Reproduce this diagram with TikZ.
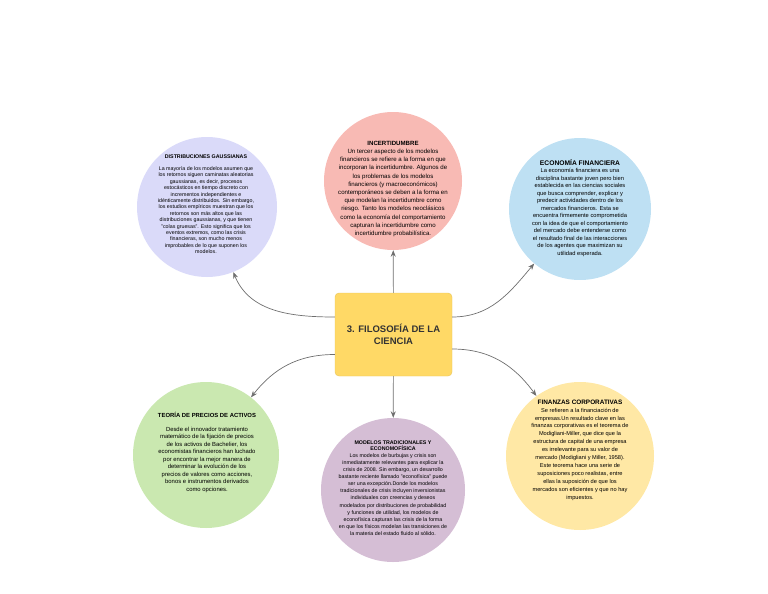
\documentclass[tikz,border=0pt]{standalone}
\usepackage{fontspec}
\setmainfont{Liberation Sans}
\usepackage{tikz}
\usetikzlibrary{arrows.meta,positioning}
\definecolor{lav}{RGB}{218,218,249}
\definecolor{salmon}{RGB}{248,186,180}
\definecolor{sky}{RGB}{190,224,243}
\definecolor{leaf}{RGB}{202,232,176}
\definecolor{plum}{RGB}{213,190,213}
\definecolor{cream}{RGB}{255,232,165}
\definecolor{gold}{RGB}{255,217,102}
\definecolor{goldline}{RGB}{232,196,90}
\definecolor{wire}{RGB}{110,110,110}
\definecolor{ink}{RGB}{51,51,51}
\newcommand{\fsz}[2]{\fontsize{#1}{#2}\selectfont}

\begin{document}
\begin{tikzpicture}[x=1pt, y=1pt,
  bubble/.style={circle, draw=none, inner sep=0pt},
  blurb/.style={align=center, inner sep=0pt, text=black},
  link/.style={draw=wire, line width=0.7pt, -{Stealth[length=6.5pt,width=5pt]}}]
  \useasboundingbox (0,0) rectangle (768,-594);
  % centre box
  \node[fill=gold, draw=goldline, rounded corners=4pt, minimum width=117pt, minimum height=83pt,
        align=center, font=\bfseries\fsz{9.5}{12}, text=ink] (root) at (393.5,-334.5) {3. FILOSOFÍA DE LA\\CIENCIA};
  % circles
  \node[bubble, fill=lav, minimum size=140pt] (gauss) at (207,-207) {};
  \node[bubble, fill=salmon, minimum size=138pt] (incert) at (393,-181) {};
  \node[bubble, fill=sky, minimum size=142pt] (econ) at (580,-209) {};
  \node[bubble, fill=leaf, minimum size=146pt] (teoria) at (206,-455) {};
  \node[bubble, fill=plum, minimum size=144pt] (modelos) at (393,-490) {};
  \node[bubble, fill=cream, minimum size=148pt] (finanzas) at (580,-456) {};
  % texts
  \node[blurb, font=\fsz{5.3}{6.4}] (gausstxt) at (206,-204) {\textbf{DISTRIBUCIONES GAUSSIANAS}\\[6pt]
    La mayoría de los modelos asumen que\\los retornos siguen caminatas aleatorias\\gaussianas, es decir, procesos\\
    estocásticos en tiempo discreto con\\incrementos independientes e\\idénticamente distribuidos. Sin embargo,\\
    los estudios empíricos muestran que los\\retornos son más altos que las\\distribuciones gaussianas, y que tienen\\
    "colas gruesas". Esto significa que los\\eventos extremos, como las crisis\\financieras, son mucho menos\\
    improbables de lo que suponen los\\modelos.};
  \node[blurb, font=\fsz{6.1}{8.2}] (incerttxt) at (393,-189) {\textbf{INCERTIDUMBRE}\\
    Un tercer aspecto de los modelos\\financieros se refiere a la forma en que\\incorporan la incertidumbre. Algunos de\\
    los problemas de los modelos\\financieros (y macroeconómicos)\\contemporáneos se deben a la forma en\\
    que modelan la incertidumbre como\\riesgo. Tanto los modelos neoclásicos\\como la economía del comportamiento\\
    capturan la incertidumbre como\\incertidumbre probabilística.};
  \node[blurb, font=\fsz{5.75}{7.5}] (econtxt) at (580,-208) {{\bfseries\fsz{6.7}{7.5}ECONOMÍA FINANCIERA}\\
    La economía financiera es una\\disciplina bastante joven pero bien\\establecida en las ciencias sociales\\
    que busca comprender, explicar y\\predecir actividades dentro de los\\mercados financieros. Esta se\\
    encuentra firmemente comprometida\\con la idea de que el comportamiento\\del mercado debe entenderse como\\
    el resultado final de las interacciones\\de los agentes que maximizan su\\utilidad esperada.};
  \node[blurb, font=\fsz{5.9}{7.5}] (teoriatxt) at (207,-452) {\textbf{TEORÍA DE PRECIOS DE ACTIVOS}\\[6.5pt]
    Desde el innovador tratamiento\\matemático de la fijación de precios\\de los activos de Bachelier, los\\
    economistas financieros han luchado\\por encontrar la mejor manera de\\determinar la evolución de los\\
    precios de valores como acciones,\\bonos e instrumentos derivados\\como opciones.};
  \node[blurb, font=\fsz{5.3}{7.1}] (modelostxt) at (393,-488) {\textbf{MODELOS TRADICIONALES Y}\\[-1pt]\textbf{ECONOMOFÍSICA}\\
    Los modelos de burbujas y crisis son\\inmediatamente relevantes para explicar la\\crisis de 2008. Sin embargo, un desarrollo\\
    bastante reciente llamado "econofísica" puede\\ser una excepción.Donde los modelos\\tradicionales de crisis incluyen inversionistas\\
    individuales con creencias y deseos\\modelados por distribuciones de probabilidad\\y funciones de utilidad, los modelos de\\
    econofísica capturan las crisis de la forma\\en que los físicos modelan las transiciones de\\la materia del estado fluido al sólido.};
  \node[blurb, font=\fsz{5.65}{7.9}] (finanzastxt) at (580,-450) {{\bfseries\fsz{6.4}{7.9}FINANZAS CORPORATIVAS}\\
    Se refieren a la financiación de\\empresas.Un resultado clave en las\\finanzas corporativas es el teorema de\\
    Modigliani-Miller, que dice que la\\estructura de capital de una empresa\\es irrelevante para su valor de\\
    mercado (Modigliani y Miller, 1958).\\Este teorema hace una serie de\\suposiciones poco realistas, entre\\
    ellas la suposición de que los\\mercados son eficientes y que no hay\\impuestos.};
  % connectors
  \draw[link] (root) -- (incert);
  \draw[link] (root) -- (modelos);
  \draw[link] ([yshift=17.5pt]root.west) to[out=180, in=-68] (gauss);
  \draw[link] ([yshift=17.5pt]root.east) to[out=0, in=230] (econ);
  \draw[link] ([yshift=-20pt]root.west) to[out=180, in=52] (teoria);
  \draw[link] ([yshift=-14.5pt]root.east) to[out=0, in=126] (finanzas);
\end{tikzpicture}
\end{document}
